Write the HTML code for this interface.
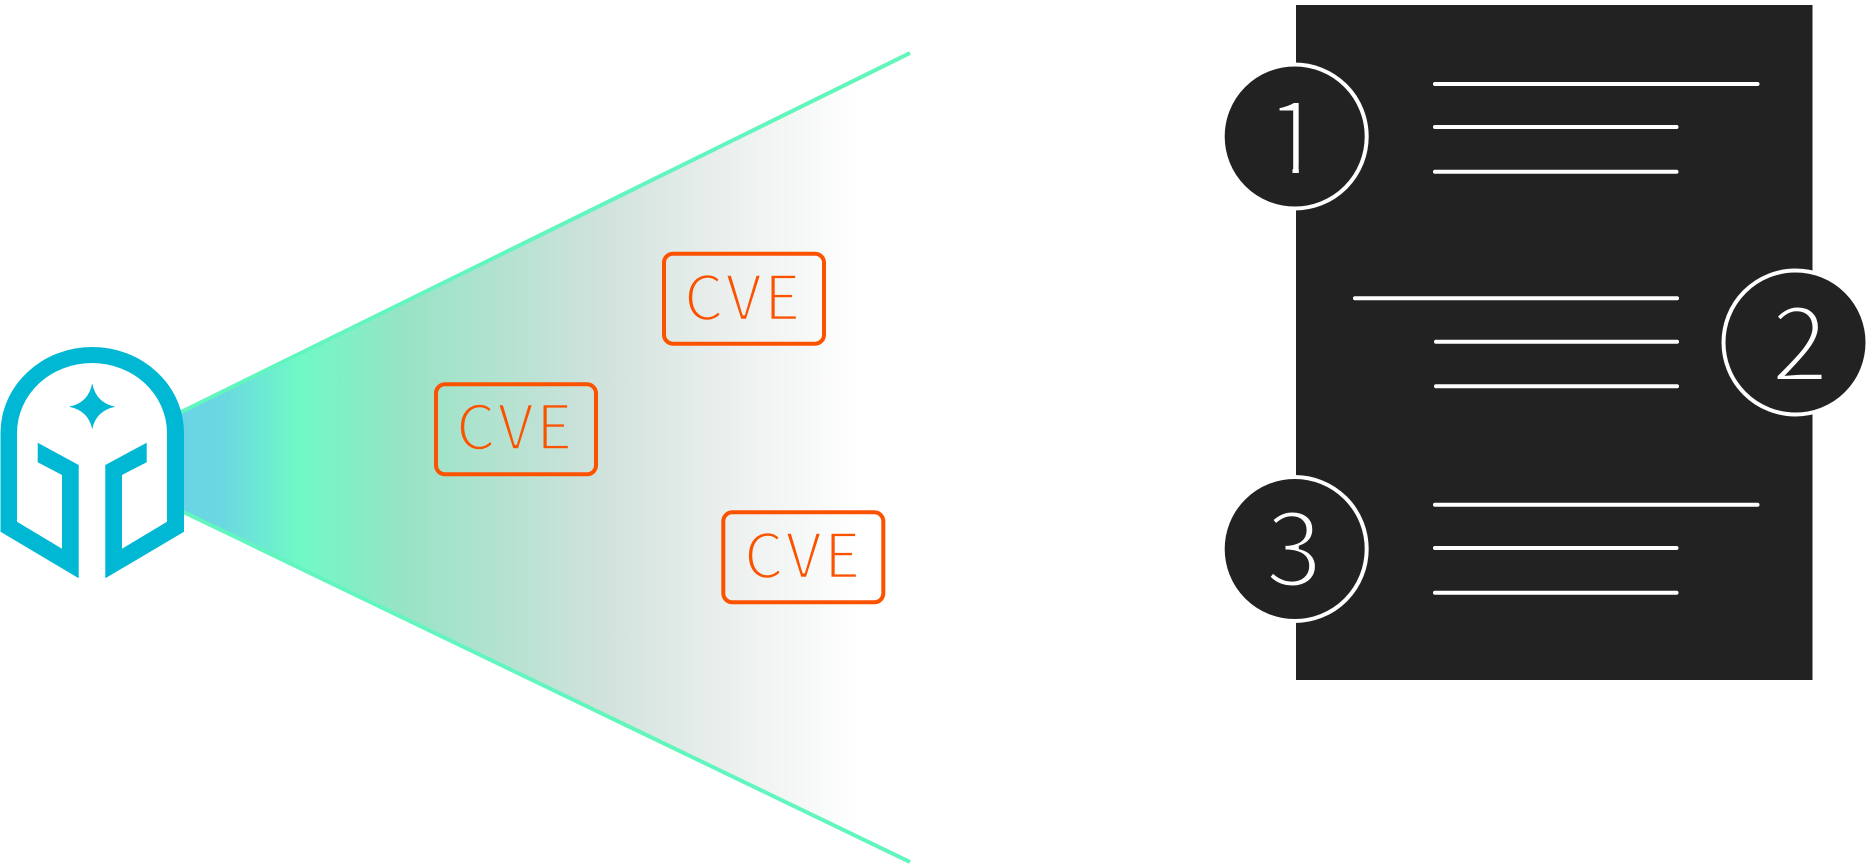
<!DOCTYPE html>
<html lang="en">
<head>
<meta charset="utf-8">
<title>CVE diagram</title>
<style>
html,body{margin:0;padding:0;background:#fff;width:1871px;height:866px;overflow:hidden}
svg{display:block}
text{font-family:"Noto Sans CJK JP","Liberation Sans",sans-serif}
</style>
</head>
<body>
<svg xmlns="http://www.w3.org/2000/svg" width="1871" height="866" viewBox="0 0 1871 866">
<defs>
<linearGradient id="g" gradientUnits="userSpaceOnUse" x1="180" y1="0" x2="860" y2="0">
<stop offset="0" stop-color="#6ad4e6"/>
<stop offset="0.06" stop-color="#6ad7e2"/>
<stop offset="0.175" stop-color="#6ff9c6"/>
<stop offset="0.33" stop-color="#98e3c6"/>
<stop offset="0.62" stop-color="#d0e2dc"/>
<stop offset="0.79" stop-color="#e9eeec"/>
<stop offset="1" stop-color="#ffffff"/>
</linearGradient>
</defs>
<rect width="1871" height="866" fill="#fff"/>

<polygon points="170,418 910,53 910,862 170,506" fill="url(#g)"/>
<line x1="170" y1="417.5" x2="910" y2="53" stroke="#62f6be" stroke-width="4"/>
<line x1="170" y1="505.5" x2="910" y2="862" stroke="#62f6be" stroke-width="4"/>

<path d="M0.5 531.7V433A91.75 86 0 0 1 184 433V531.7L105.3 578.3V465L146.7 442.7V462.3L122 475V548.7L167 521.7V433A75 70 0 0 0 17 433V521.7L62 548.7V475L37.7 462.3V442.7L78.7 465V578.3Z" fill="#00b7d4"/>
<path d="M92.2 383.3Q96 403 115.3 406.7Q96 410.5 92.2 429.3Q88.5 410.5 69 406.7Q88.5 403 92.2 383.3Z" fill="#00b7d4"/>

<g fill="none" stroke="#fb5200" stroke-width="4">
<rect x="664" y="253.7" width="160" height="90" rx="9"/>
<rect x="436" y="384.3" width="160" height="90" rx="9"/>
<rect x="723.3" y="512.3" width="160" height="90" rx="9"/>
</g>
<g font-size="62" letter-spacing="2.5" fill="#fb5200" stroke="url(#g)" stroke-width="2.5">
<text x="684" y="320">CVE</text>
<text x="456" y="449.6">CVE</text>
<text x="744" y="578">CVE</text>
</g>

<rect x="1296" y="5" width="516.5" height="675" fill="#222222"/>
<g stroke="#fff" stroke-width="4" stroke-linecap="round">
<line x1="1435" y1="84" x2="1757.5" y2="84"/>
<line x1="1435" y1="127" x2="1676.5" y2="127"/>
<line x1="1435" y1="171.7" x2="1676.5" y2="171.7"/>
<line x1="1355" y1="298.3" x2="1677" y2="298.3"/>
<line x1="1436" y1="341.7" x2="1677" y2="341.7"/>
<line x1="1436" y1="386.3" x2="1677" y2="386.3"/>
<line x1="1435" y1="504.7" x2="1757.5" y2="504.7"/>
<line x1="1435" y1="548" x2="1676.5" y2="548"/>
<line x1="1435" y1="592.7" x2="1676.5" y2="592.7"/>
</g>
<g fill="#222222" stroke="#fff" stroke-width="4">
<circle cx="1294.7" cy="136.5" r="72"/>
<circle cx="1795.5" cy="342.5" r="72"/>
<circle cx="1294.7" cy="549" r="72"/>
</g>
<g font-size="104" fill="#fff" stroke="#222222" stroke-width="4">
<text x="1265" y="175">1</text>
<text x="1771" y="381">2</text>
<text x="1265" y="586">3</text>
</g>
<rect x="1268" y="165" width="24.5" height="13" fill="#222222"/>
<rect x="1298.8" y="165" width="24" height="13" fill="#222222"/>
</svg>
</body>
</html>
